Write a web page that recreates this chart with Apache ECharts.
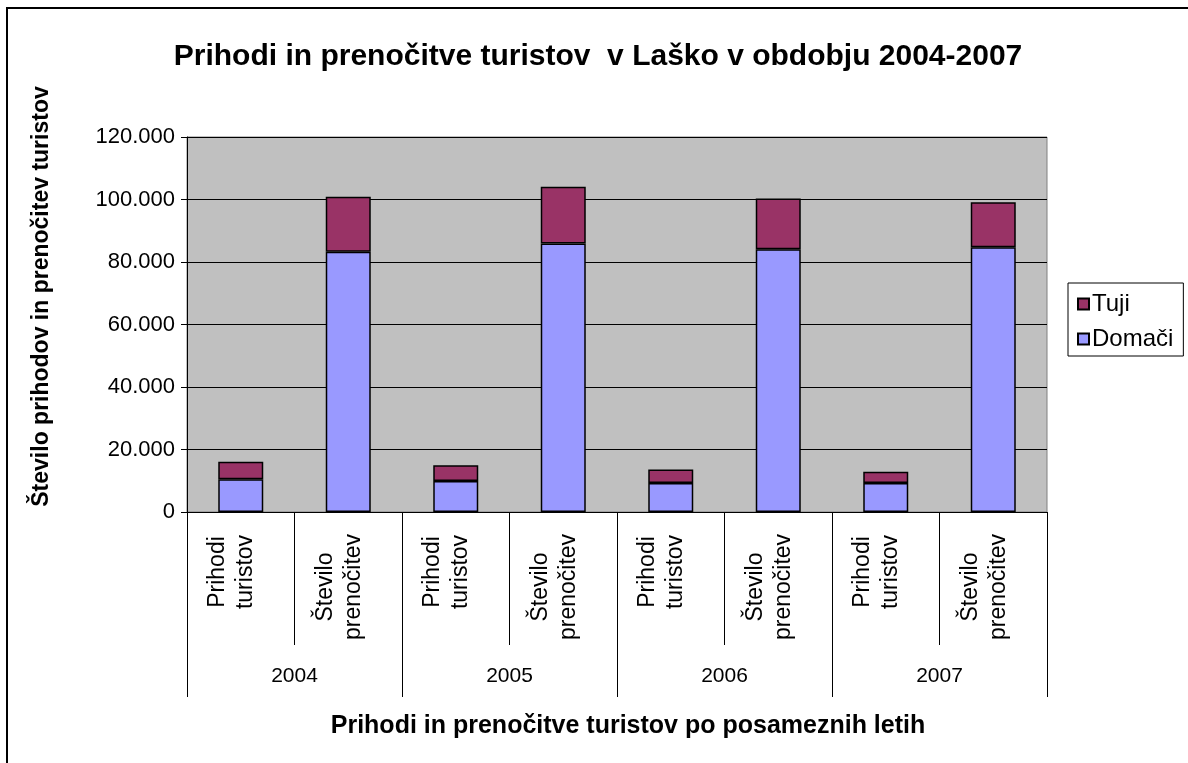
<!DOCTYPE html>
<html>
<head>
<meta charset="utf-8">
<script src="https://cdn.jsdelivr.net/npm/echarts@6/dist/echarts.min.js"></script>
<style>
    html, body { margin: 0; padding: 0; background: #fff; }
    #main { width: 1188px; height: 763px; }
</style>
</head>
<body>
<div id="main"></div>
<script>
// podatki
var kategorije = ['Prihodi\nturistov', 'Število\nprenočitev', 'Prihodi\nturistov', 'Število\nprenočitev',
    'Prihodi\nturistov', 'Število\nprenočitev', 'Prihodi\nturistov', 'Število\nprenočitev']
var leta = ['2004', '2005', '2006', '2007']
var domaci = [10500, 83300, 9900, 85900, 9300, 84100, 9300, 84700]
var tuji = [5600, 17600, 5100, 18200, 4300, 16200, 3600, 14400]

var font = 'Arial, "Liberation Sans", sans-serif'

var myChart = echarts.init(document.getElementById('main'))

function tisoc(v) {
    // 120000 -> 120.000
    return String(v).replace(/\B(?=(\d{3})+(?!\d))/g, '.')
}

option = {
    backgroundColor: '#fff',
    animation: false,
    title: [{
        text: 'Prihodi in prenočitve turistov  v Laško v obdobju 2004-2007',
        left: 593,
        top: 37,
        textAlign: 'center',
        textStyle: { fontFamily: font, fontSize: 30, fontWeight: 'bold', color: '#000' }
    }, {
        text: 'Prihodi in prenočitve turistov po posameznih letih',
        left: 623,
        top: 709,
        textAlign: 'center',
        textStyle: { fontFamily: font, fontSize: 25, fontWeight: 'bold', color: '#000' }
    }],
    legend: {
        orient: 'vertical',
        left: 1068,
        top: 283,
        data: ['Tuji', 'Domači'],
        icon: 'rect',
        itemWidth: 11,
        itemHeight: 11,
        itemGap: 11,
        padding: [9, 10, 5, 9],
        borderColor: '#000',
        borderWidth: 1,
        backgroundColor: '#fff',
        textStyle: { fontFamily: font, fontSize: 24, color: '#000', padding: [0, 0, 0, -2] }
    },
    graphic: [{
        type: 'rect',
        shape: { x: 7, y: 8, width: 1200, height: 800 },
        style: { fill: 'none', stroke: '#000', lineWidth: 2 },
        silent: true
    }],
    grid: {
        left: 187,
        right: 141,
        top: 137,
        bottom: 251,
        show: true,
        backgroundColor: '#C0C0C0',
        borderColor: '#808080',
        borderWidth: 1
    },
    xAxis: [{
        type: 'category',
        data: kategorije,
        position: 'bottom',
        axisLine: { lineStyle: { color: '#000', width: 1 } },
        axisTick: { show: true, interval: 0, length: 133, lineStyle: { color: '#000' } },
        axisLabel: {
            interval: 0,
            rotate: 90,
            margin: 20,
            fontFamily: font,
            fontSize: 23,
            color: '#000',
            lineHeight: 28,
            padding: [0, 0, 18, 0],
            formatter: function (v) {
                var d = v.split('\n')
                var w = d[0] === 'Prihodi' ? 'p' : 's'
                return '{' + w + '|' + d[0] + '}\n{' + w + '|' + d[1] + '}'
            },
            rich: {
                p: { width: 80, align: 'center', fontFamily: font, fontSize: 23, lineHeight: 28, color: '#000' },
                s: { width: 110, align: 'center', fontFamily: font, fontSize: 23, lineHeight: 28, color: '#000' }
            }
        }
    }, {
        type: 'category',
        data: leta,
        position: 'bottom',
        axisLine: { show: false },
        axisTick: { show: true, interval: 0, length: 185, lineStyle: { color: '#000' } },
        axisLabel: {
            interval: 0,
            margin: 154,
            fontFamily: font,
            fontSize: 21,
            color: '#000'
        }
    }],
    yAxis: [{
        type: 'value',
        min: 0,
        max: 120000,
        interval: 20000,
        name: 'Število prihodov in prenočitev turistov',
        nameLocation: 'middle',
        nameRotate: 90,
        nameGap: 134,
        nameTextStyle: { fontFamily: font, fontSize: 23, fontWeight: 'bold', color: '#000', padding: [0, 0, 0, 56] },
        axisLine: { show: true, lineStyle: { color: '#000', width: 1 } },
        axisTick: { show: true, length: 6, lineStyle: { color: '#000' } },
        axisLabel: {
            margin: 12,
            fontFamily: font,
            fontSize: 22,
            color: '#000',
            formatter: tisoc
        },
        splitLine: { lineStyle: { color: '#000', width: 1 } }
    }],
    series: [
        {
            name: 'Domači',
            type: 'bar',
            stack: 'skupaj',
            data: domaci,
            barWidth: 45,
            itemStyle: { color: '#9999FF', borderColor: '#000', borderWidth: 1.5 }
        },
        {
            name: 'Tuji',
            type: 'bar',
            stack: 'skupaj',
            data: tuji,
            barWidth: 45,
            itemStyle: { color: '#993366', borderColor: '#000', borderWidth: 1.5 }
        }
    ]
};

myChart.setOption(option);
window.addEventListener("resize", function () {
    myChart.resize();
});
</script>
</body>
</html>
